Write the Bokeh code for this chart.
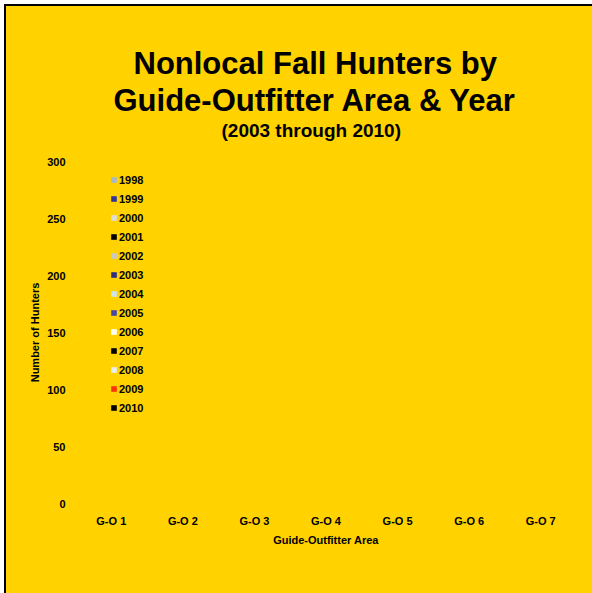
from bokeh.plotting import figure
from bokeh.models import Legend, LegendItem, Title, ColumnDataSource, FixedTicker
from bokeh.transform import dodge
from bokeh.embed import file_html
from bokeh.resources import INLINE

# ---- data ----
areas = ["G-O 1", "G-O 2", "G-O 3", "G-O 4", "G-O 5", "G-O 6", "G-O 7"]
years = ["1998", "1999", "2000", "2001", "2002", "2003", "2004",
         "2005", "2006", "2007", "2008", "2009", "2010"]
# no bars are visible in the reference: every value reads as 0
h1998 = [0, 0, 0, 0, 0, 0, 0]
h1999 = [0, 0, 0, 0, 0, 0, 0]
h2000 = [0, 0, 0, 0, 0, 0, 0]
h2001 = [0, 0, 0, 0, 0, 0, 0]
h2002 = [0, 0, 0, 0, 0, 0, 0]
h2003 = [0, 0, 0, 0, 0, 0, 0]
h2004 = [0, 0, 0, 0, 0, 0, 0]
h2005 = [0, 0, 0, 0, 0, 0, 0]
h2006 = [0, 0, 0, 0, 0, 0, 0]
h2007 = [0, 0, 0, 0, 0, 0, 0]
h2008 = [0, 0, 0, 0, 0, 0, 0]
h2009 = [0, 0, 0, 0, 0, 0, 0]
h2010 = [0, 0, 0, 0, 0, 0, 0]
series = [h1998, h1999, h2000, h2001, h2002, h2003, h2004,
          h2005, h2006, h2007, h2008, h2009, h2010]
year_colors = ["#A8B8C8", "#333399", "#DDDDDD", "#000000", "#C8C8C8", "#2E2E80",
               "#CCE4F0", "#4646A8", "#FFFFFF", "#000000", "#E8EEF2", "#FF3300", "#000000"]
y_ticks = [0, 50, 100, 150, 200, 250, 300]
title_lines = ["Nonlocal Fall Hunters by", "Guide-Outfitter Area & Year"]
subtitle = "(2003 through 2010)"

BG = "#FFD200"
FONT = "Liberation Sans"

p = figure(x_range=areas, y_range=(0, 300), width=586, height=587,
           output_backend="svg", toolbar_location=None, title=None,
           min_border_left=69, min_border_right=18, min_border_bottom=92,
           min_border_top=155)
p.styles = {"margin-left": "4px", "margin-top": "4px", "background-color": BG,
            "box-sizing": "content-box",
            "border-left": "2px solid black", "border-top": "2px solid black",
            "border-right": "0px none", "border-bottom": "0px none"}
p.background_fill_alpha = 0
p.border_fill_alpha = 0
p.outline_line_color = None
p.grid.grid_line_color = None

src = ColumnDataSource(dict(area=areas, **{y: s for y, s in zip(years, series)}))
bw = 0.8 / len(years)
items = []
for i, (yr, col) in enumerate(zip(years, year_colors)):
    off = -0.4 + bw * (i + 0.5)
    r = p.vbar(x=dodge("area", off, range=p.x_range), top=yr, width=bw,
               source=src, fill_color=col, line_color=None)
    items.append(LegendItem(label=yr, renderers=[r]))

legend = Legend(items=items, location=(35, 89), margin=0, padding=0,
                background_fill_alpha=0, border_line_color=None,
                glyph_width=7, glyph_height=7, label_standoff=2,
                label_height=13, spacing=6,
                label_text_font=FONT, label_text_font_style="bold",
                label_text_font_size="11px", label_text_color="#000000")
p.add_layout(legend)

# axes
p.yaxis.ticker = FixedTicker(ticks=y_ticks)
for ax in (p.xaxis[0], p.yaxis[0]):
    ax.axis_line_color = None
    ax.major_tick_line_color = None
    ax.minor_tick_line_color = None
    ax.major_tick_out = 0
    ax.major_tick_in = 0
    ax.minor_tick_out = 0
    ax.minor_tick_in = 0
    ax.major_label_text_font = FONT
    ax.major_label_text_font_style = "bold"
    ax.major_label_text_font_size = "11px"
    ax.major_label_text_color = "#000000"
    ax.axis_label_text_font = FONT
    ax.axis_label_text_font_style = "bold"
    ax.axis_label_text_font_size = "11px"
    ax.axis_label_text_color = "#000000"
p.yaxis.axis_label = "Number of Hunters"
p.yaxis.major_label_standoff = 10
p.yaxis.axis_label_standoff = 3
p.xaxis.axis_label = "Guide-Outfitter Area"
p.xaxis.major_label_standoff = 11
p.xaxis.axis_label_standoff = 4

# titles: added from the plot frame upward (trailing empty line lifts the subtitle)
for txt, fs, off, so in [(subtitle + "\n", "19px", 146, 0),
                         (title_lines[1], "31px", 38, 0),
                         (title_lines[0], "31px", 58, 0)]:
    p.add_layout(Title(text=txt, align="left", offset=off, standoff=so,
                       text_font=FONT, text_font_style="bold", text_font_size=fs,
                       text_color="#000000"), "above")

open("out.html", "w").write(file_html(p, INLINE))
